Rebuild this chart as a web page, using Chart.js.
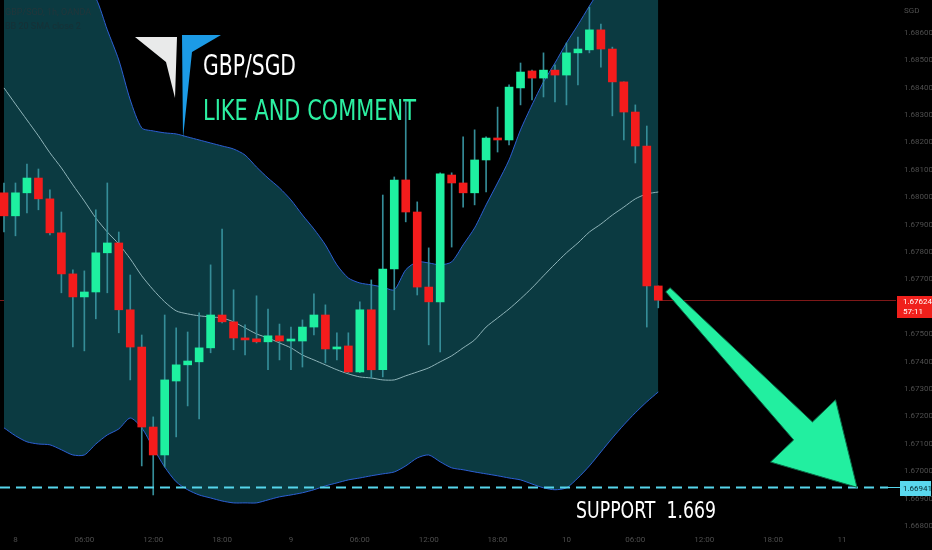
<!DOCTYPE html>
<html>
<head>
<meta charset="utf-8">
<script src="https://cdn.jsdelivr.net/npm/chart.js@4.4.1/dist/chart.umd.min.js"></script>
<style>
html, body { margin: 0; padding: 0; background: #000; }
#wrap { width: 932px; height: 550px; position: relative; }
</style>
</head>
<body>
<div id="wrap"><canvas id="gbpsgdChart" width="932" height="550"></canvas></div>
<script>
// GBP/SGD 1h candles
const opens = [1.68016,1.67932,1.68016,1.68070,1.67994,1.67870,1.67720,1.67636,1.67654,1.67797,
  1.67833,1.67589,1.67453,1.67161,1.67059,1.67329,1.67388,1.67399,1.67450,1.67570,
  1.67545,1.67486,1.67483,1.67472,1.67494,1.67475,1.67475,1.67526,1.67570,1.67446,
  1.67457,1.67362,1.67589,1.67370,1.67738,1.68063,1.67946,1.67672,1.67618,1.68081,
  1.68052,1.68016,1.68136,1.68216,1.68209,1.68399,1.68461,1.68435,1.68464,1.68446,
  1.68527,1.68538,1.68611,1.68541,1.68421,1.68311,1.68187,1.67676];
const highs = [1.68052,1.68052,1.68121,1.68103,1.68027,1.67946,1.67735,1.67731,1.67954,1.68052,
  1.67873,1.67716,1.67497,1.67198,1.67570,1.67523,1.67508,1.67578,1.67753,1.67884,
  1.67662,1.67534,1.67640,1.67592,1.67537,1.67526,1.67552,1.67647,1.67607,1.67505,
  1.67505,1.67618,1.67698,1.68008,1.68074,1.68348,1.67983,1.67815,1.68089,1.68089,
  1.68220,1.68246,1.68220,1.68329,1.68410,1.68490,1.68464,1.68527,1.68483,1.68563,
  1.68585,1.68694,1.68632,1.68548,1.68421,1.68337,1.68260,1.67676];
const lows = [1.67873,1.67859,1.67943,1.67954,1.67862,1.67651,1.67453,1.67439,1.67556,1.67651,
  1.67505,1.67333,1.67019,1.66913,1.67015,1.67125,1.67238,1.67191,1.67432,1.67541,
  1.67443,1.67424,1.67468,1.67370,1.67406,1.67370,1.67380,1.67497,1.67395,1.67406,
  1.67359,1.67359,1.67340,1.67344,1.67589,1.67910,1.67643,1.67461,1.67435,1.67818,
  1.67964,1.67972,1.68019,1.68165,1.68191,1.68337,1.68355,1.68366,1.68348,1.68337,
  1.68410,1.68527,1.68475,1.68297,1.68209,1.68125,1.67526,1.67596];
const closes = [1.67932,1.68016,1.68070,1.67994,1.67870,1.67720,1.67636,1.67654,1.67797,1.67833,
  1.67589,1.67453,1.67161,1.67059,1.67333,1.67388,1.67402,1.67450,1.67570,1.67545,
  1.67486,1.67479,1.67472,1.67494,1.67475,1.67479,1.67526,1.67570,1.67446,1.67453,
  1.67362,1.67589,1.67370,1.67738,1.68063,1.67946,1.67672,1.67618,1.68085,1.68052,
  1.68016,1.68136,1.68216,1.68209,1.68402,1.68457,1.68435,1.68464,1.68446,1.68527,
  1.68541,1.68611,1.68541,1.68421,1.68311,1.68187,1.67676,1.67624];

// Bollinger bands as drawn on the picture
const bbUpper = [1.69049,1.69012,1.68976,1.68932,1.68884,1.68848,1.68811,1.68771,1.68727,1.68611,
  1.68501,1.68355,1.68253,1.68242,1.68235,1.68231,1.68220,1.68209,1.68198,1.68187,
  1.68176,1.68154,1.68110,1.68070,1.68034,1.67990,1.67935,1.67884,1.67826,1.67753,
  1.67705,1.67687,1.67680,1.67672,1.67662,1.67735,1.67764,1.67760,1.67753,1.67764,
  1.67826,1.67888,1.67972,1.68052,1.68136,1.68246,1.68337,1.68421,1.68490,1.68563,
  1.68629,1.68698,1.68764,1.68830,1.68884,1.68921,1.68939,1.68939];
const bbBasis = [1.68399,1.68340,1.68282,1.68224,1.68162,1.68107,1.68045,1.67986,1.67924,1.67873,
  1.67829,1.67775,1.67713,1.67662,1.67618,1.67585,1.67574,1.67567,1.67563,1.67559,
  1.67545,1.67523,1.67501,1.67486,1.67468,1.67450,1.67424,1.67406,1.67388,1.67370,
  1.67355,1.67344,1.67340,1.67333,1.67333,1.67348,1.67362,1.67377,1.67399,1.67421,
  1.67450,1.67479,1.67526,1.67559,1.67592,1.67629,1.67669,1.67713,1.67756,1.67797,
  1.67833,1.67873,1.67902,1.67935,1.67964,1.67994,1.68012,1.68019];
const bbLower = [1.67158,1.67129,1.67107,1.67099,1.67096,1.67078,1.67059,1.67059,1.67099,1.67132,
  1.67154,1.67194,1.67158,1.67085,1.67015,1.66961,1.66932,1.66913,1.66902,1.66891,
  1.66884,1.66884,1.66884,1.66895,1.66906,1.66913,1.66921,1.66932,1.66946,1.66957,
  1.66968,1.66975,1.66983,1.66990,1.66997,1.67019,1.67048,1.67059,1.67034,1.67012,
  1.67005,1.66997,1.66990,1.66983,1.66975,1.66968,1.66953,1.66939,1.66932,1.66939,
  1.66975,1.67019,1.67070,1.67121,1.67169,1.67213,1.67253,1.67289];

// axis ticks
const timeTickIdx = [1, 7, 13, 19, 25, 31, 37, 43, 49, 55, 61, 67, 73];
const timeTickLabels = ['8', '06:00', '12:00', '18:00', '9', '06:00', '12:00', '18:00', '10', '06:00', '12:00', '18:00', '11'];
const priceTicks = [1.668, 1.669, 1.670, 1.671, 1.672, 1.673, 1.674, 1.675, 1.676, 1.677,
  1.678, 1.679, 1.680, 1.681, 1.682, 1.683, 1.684, 1.685, 1.686];

const lastPrice = 1.67624;
const countdown = '57:11';
const supportPrice = 1.66941;
// arrow from just after the last candle down to the support line (index, price)
const arrowFrom = [57.84, 1.67662];
const arrowTo = [74.31, supportPrice];

// visible window
const xMin = -0.348, xMax = 77.71;
const yMin = 1.66796, yMax = 1.68720;

const GREEN = '#1ef0a0';
const RED = '#f41c1c';
const WICK = '#358d98';
const NARROW = "'Liberation Sans Narrow', 'DejaVu Sans Condensed', 'Roboto Condensed', sans-serif";

const idx = opens.map((_, i) => i);
const pts = arr => idx.map(i => ({ x: i, y: arr[i] }));

// overlay drawings: price line, support, arrow, texts, logo, price tags
const overlay = {
    id: 'overlay',
    beforeDatasetsDraw(chart) {
        const { ctx, chartArea, scales: { y } } = chart;
        const py = Math.round(y.getPixelForValue(lastPrice)) + 0.5;
        ctx.save();
        ctx.strokeStyle = 'rgba(210,40,40,0.6)';
        ctx.lineWidth = 1;
        ctx.beginPath();
        ctx.moveTo(0, py);
        ctx.lineTo(chartArea.right, py);
        ctx.stroke();
        ctx.restore();
    },
    afterDraw(chart) {
        const { ctx, chartArea, scales: { x, y } } = chart;
        const W = chart.width;
        ctx.save();

        // support dashed line
        const sy = Math.round(y.getPixelForValue(supportPrice)) + 0.5;
        ctx.strokeStyle = '#56d6ec';
        ctx.lineWidth = 2;
        ctx.setLineDash([10, 6]);
        ctx.beginPath();
        ctx.moveTo(0, sy);
        ctx.lineTo(chartArea.right - 8, sy);
        ctx.stroke();
        ctx.setLineDash([]);
        ctx.lineWidth = 1;
        ctx.beginPath();
        ctx.moveTo(chartArea.right - 8, sy);
        ctx.lineTo(chartArea.right + 4, sy);
        ctx.stroke();

        // arrow
        const sx0 = x.getPixelForValue(arrowFrom[0]), sy0 = y.getPixelForValue(arrowFrom[1]);
        const tx = x.getPixelForValue(arrowTo[0]), ty = y.getPixelForValue(arrowTo[1]);
        const len = Math.hypot(tx - sx0, ty - sy0);
        const dx = (tx - sx0) / len, dy = (ty - sy0) / len;
        const nx = -dy, ny = dx;
        const headLen = 78, headHalf = 45, shaftEnd = 13, shaftStart = 3;
        const bx = tx - dx * headLen, by = ty - dy * headLen;
        ctx.beginPath();
        ctx.moveTo(sx0 + nx * shaftStart, sy0 + ny * shaftStart);
        ctx.lineTo(bx + nx * shaftEnd, by + ny * shaftEnd);
        ctx.lineTo(bx + nx * headHalf, by + ny * headHalf);
        ctx.lineTo(tx, ty);
        ctx.lineTo(bx - nx * headHalf, by - ny * headHalf);
        ctx.lineTo(bx - nx * shaftEnd, by - ny * shaftEnd);
        ctx.lineTo(sx0 - nx * shaftStart, sy0 - ny * shaftStart);
        ctx.closePath();
        ctx.fillStyle = '#22efa0';
        ctx.fill();
        ctx.strokeStyle = '#0c6a48';
        ctx.lineWidth = 1;
        ctx.stroke();

        // current price tag
        const py = y.getPixelForValue(lastPrice);
        ctx.fillStyle = '#f0201c';
        ctx.fillRect(chartArea.right + 1, Math.round(py) - 4, W - chartArea.right - 1, 22);
        ctx.fillStyle = '#ffffff';
        ctx.font = '8px Roboto';
        ctx.textBaseline = 'middle';
        ctx.textAlign = 'left';
        ctx.fillText(lastPrice.toFixed(5), chartArea.right + 7, Math.round(py) + 2);
        ctx.fillText(countdown, chartArea.right + 7, Math.round(py) + 12);

        // support price tag
        ctx.fillStyle = '#5ad8ee';
        ctx.fillRect(chartArea.right + 4, Math.round(sy) - 7, W - chartArea.right - 5, 15);
        ctx.fillStyle = '#062a30';
        ctx.fillText(supportPrice.toFixed(5), chartArea.right + 7, Math.round(sy) + 1);

        // currency label on the price scale
        ctx.fillStyle = '#505050';
        ctx.fillText('SGD', chartArea.right + 8, 11);

        // symbol legend
        ctx.font = '9px Roboto';
        ctx.fillStyle = '#22363b';
        ctx.fillText('GBP/SGD, 1h, OANDA', 5, 13);
        ctx.fillStyle = '#173036';
        ctx.fillText('BB 20 SMA close 2', 5, 27);

        // logo
        ctx.fillStyle = '#e9eaea';
        ctx.beginPath();
        ctx.moveTo(135, 37); ctx.lineTo(177, 37); ctx.lineTo(175, 98); ctx.lineTo(166, 62);
        ctx.closePath(); ctx.fill();
        ctx.fillStyle = '#1c9be6';
        ctx.beginPath();
        ctx.moveTo(182, 35); ctx.lineTo(221, 35); ctx.lineTo(192, 52); ctx.lineTo(183, 138);
        ctx.closePath(); ctx.fill();

        // titles
        ctx.textBaseline = 'alphabetic';
        ctx.fillStyle = '#ffffff';
        ctx.font = '28px ' + NARROW;
        ctx.fillText('GBP/SGD', 203, 75, 93);
        ctx.fillStyle = '#2cf0a2';
        ctx.font = '29px ' + NARROW;
        ctx.fillText('LIKE AND COMMENT', 203, 120, 213);
        ctx.fillStyle = '#ffffff';
        ctx.font = '23px ' + NARROW;
        ctx.fillText('SUPPORT  1.669', 576, 518, 140);

        ctx.restore();
    }
};

const ctx = document.getElementById('gbpsgdChart').getContext('2d');
new Chart(ctx, {
    type: 'bar',
    data: {
        datasets: [
            {
                type: 'line', label: 'BB upper', data: pts(bbUpper),
                borderColor: '#2c5fd4', borderWidth: 1, pointRadius: 0, tension: 0.25,
                fill: '+2', backgroundColor: '#0b3a41', order: 5
            },
            {
                type: 'line', label: 'BB basis', data: pts(bbBasis),
                borderColor: '#8fb4b9', borderWidth: 1, pointRadius: 0, tension: 0.25,
                fill: false, order: 4
            },
            {
                type: 'line', label: 'BB lower', data: pts(bbLower),
                borderColor: '#2c5fd4', borderWidth: 1, pointRadius: 0, tension: 0.25,
                fill: false, order: 4
            },
            {
                label: 'wicks', data: idx.map(i => ({ x: i, y: [lows[i], highs[i]] })),
                backgroundColor: WICK, barThickness: 1, grouped: false, order: 2
            },
            {
                label: 'bodies', data: idx.map(i => ({ x: i, y: [opens[i], closes[i]] })),
                backgroundColor: idx.map(i => closes[i] >= opens[i] ? GREEN : RED),
                barThickness: 8, minBarLength: 2, grouped: false, order: 1
            }
        ]
    },
    options: {
        responsive: false,
        animation: false,
        devicePixelRatio: 1,
        layout: { padding: 0 },
        plugins: {
            legend: { display: false },
            tooltip: { enabled: false }
        },
        scales: {
            x: {
                type: 'linear',
                min: xMin,
                max: xMax,
                offset: false,
                grid: { display: false, drawTicks: false },
                border: { display: false },
                afterBuildTicks: s => { s.ticks = timeTickIdx.map(v => ({ value: v })); },
                afterFit: s => { s.height = 23; s.paddingLeft = 0; s.paddingRight = 0; },
                ticks: {
                    color: '#4e4e4e',
                    font: { size: 8, family: 'Roboto' },
                    padding: 8,
                    maxRotation: 0,
                    autoSkip: false,
                    callback: (v, i) => timeTickLabels[i]
                }
            },
            y: {
                position: 'right',
                min: yMin,
                max: yMax,
                grid: { display: false, drawTicks: false },
                border: { display: false },
                afterBuildTicks: s => { s.ticks = priceTicks.map(v => ({ value: v })); },
                afterFit: s => { s.width = 36; s.paddingTop = 0; s.paddingBottom = 0; },
                ticks: {
                    color: '#4e4e4e',
                    font: { size: 8, family: 'Roboto' },
                    padding: 8,
                    callback: v => Number(v).toFixed(5)
                }
            }
        }
    },
    plugins: [overlay]
});
</script>
</body>
</html>
